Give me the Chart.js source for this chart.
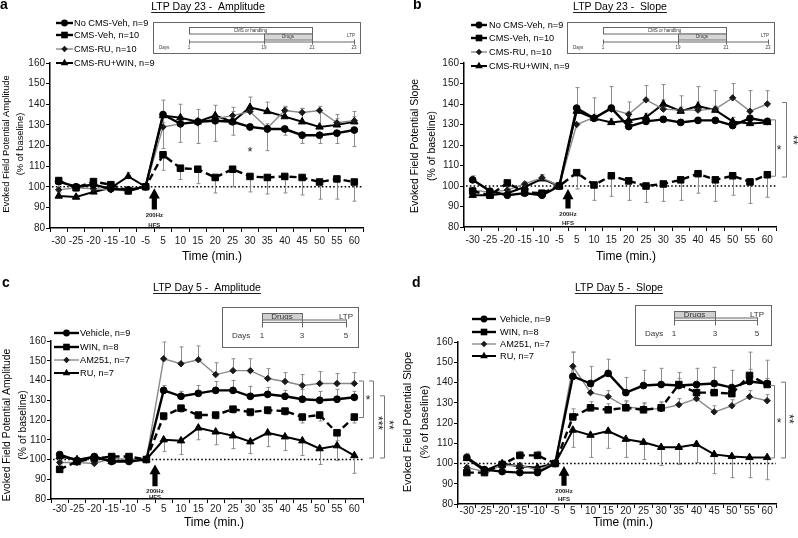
<!DOCTYPE html>
<html>
<head>
<meta charset="utf-8">
<title>LTP panels</title>
<script src="https://cdn.jsdelivr.net/npm/chart.js@4.4.0/dist/chart.umd.min.js"></script>
<style>
    html, body { margin: 0; padding: 0; background: #fff; }
    #wrap { position: relative; width: 798px; height: 538px; overflow: hidden; }
    canvas { position: absolute; }
</style>
</head>
<body>
<div id="wrap">
    <canvas id="chart-a" width="399" height="269" style="left:0;top:0"></canvas>
    <canvas id="chart-b" width="399" height="269" style="left:399px;top:0"></canvas>
    <canvas id="chart-c" width="399" height="269" style="left:0;top:269px"></canvas>
    <canvas id="chart-d" width="399" height="269" style="left:399px;top:269px"></canvas>
</div>
<script>
// --- data ---
const timeLabels = ['-30', '-25', '-20', '-15', '-10', '-5', '5', '10', '15', '20', '25', '30', '35', '40', '45', '50', '55', '60'];

// a: LTP day 23, amplitude
const aNoCmsVeh    = [102.5, 100, 101, 99, 98.5, 100, 135, 130.5, 131.5, 132, 131.5, 129, 128, 128, 125, 125, 126, 127.5];
const aNoCmsVehErr = [1.5, 1.5, 1.5, 1, 1, 0, 16.5, 9, 10.5, 10, 6.5, 1.5, 10.5, 3, 4, 4, 5, 8];
const aCmsVeh      = [103, 99.5, 102.5, 101, 98, 100, 115.5, 109, 108.5, 104.5, 108.5, 105, 104.5, 105, 104.5, 102.3, 103.8, 102.3];
const aCmsVehErr   = [1.5, 1.5, 1.5, 1.5, 1.5, 0, 7.5, 5.5, 7, 7.5, 8.5, 7.5, 8, 8, 8.5, 8.3, 9.8, 9.3];
const aCmsRu       = [98.5, 99.5, 99, 98.5, 98, 100, 129, 130.5, 131, 133, 134.5, 136.5, 128.5, 137, 136, 137, 131, 132];
const aCmsRuErr    = [1, 1, 1, 1, 1, 0, 2, 2, 2, 2, 2, 2, 2, 2, 2, 2, 2, 2];
const aCmsRuWin    = [95.5, 95, 97.5, 99.5, 105, 100, 134.5, 133.5, 131.5, 134.5, 131.5, 138.5, 136.5, 134, 131.5, 129, 130, 131.5];
const aCmsRuWinErr = [1.5, 1, 1.5, 1, 2, 0, 7.5, 6.5, 6, 5, 7, 5, 4.5, 4.5, 6.5, 8, 5, 5];

// b: LTP day 23, slope
const bNoCmsVeh    = [103, 97.5, 95.5, 96.5, 95.5, 100, 138, 133, 138, 129, 131.5, 132.5, 131, 132, 132, 129.5, 133, 131.5];
const bNoCmsVehErr = [2, 1, 1, 1, 1, 0, 10, 1.5, 1.5, 1.5, 1.5, 1.5, 1.5, 1.5, 1.5, 1.5, 1.5, 1.5];
const bCmsVeh      = [97.5, 95.5, 101.5, 97, 96.5, 100, 106.5, 100.5, 105, 102.5, 100, 101, 103, 106, 103, 105, 102, 105.5];
const bCmsVehErr   = [1.5, 1.5, 1.5, 1.5, 1.5, 0, 8, 7.5, 10, 9.5, 8, 8.5, 10, 9.5, 10.5, 9.5, 10.5, 11];
const bCmsRu       = [98, 97, 98, 101, 104, 100, 130, 133.5, 137.5, 135, 142, 137.5, 137, 137, 137.5, 143, 136.5, 140];
const bCmsRuErr    = [1, 1, 1, 1, 1.5, 0, 0, 9.5, 11, 6, 7, 12, 7, 11.5, 9, 7, 10, 6.5];
const bCmsRuWin    = [95.5, 95.5, 96.5, 99.5, 103.5, 100, 136.5, 133, 131, 132, 133.5, 140, 136.5, 139, 137, 131.5, 130.5, 131];
const bCmsRuWinErr = [1, 1, 1, 1, 2, 0, 2, 2, 2, 2, 2, 2, 2, 2, 2, 2, 2, 2];

// c: LTP day 5, amplitude
const cVehicle    = [102.5, 99.5, 101.5, 99, 99, 100, 135, 132, 133.5, 135, 135, 132, 133, 132, 130.5, 130, 130.5, 131.5];
const cVehicleErr = [1.5, 1, 1, 1, 1, 0, 2.5, 2.5, 4, 4.5, 5, 5, 3.5, 3, 5, 4.5, 5, 3];
const cWin        = [95, 99, 100.5, 101.5, 101.5, 100, 122, 126, 122.5, 122.5, 125.5, 124, 125, 124.5, 121.5, 122.5, 113.5, 121.5];
const cWinErr     = [1, 1, 1, 1, 1, 0, 2, 2, 2, 2, 2, 2, 2, 2, 3, 3, 4, 3];
const cAm251      = [98.5, 98.5, 98, 100.5, 100, 100, 151, 148.5, 150.5, 143, 145, 145, 141, 139.5, 137.5, 138.5, 138.5, 138.5];
const cAm251Err   = [1, 1, 1, 1, 1, 0, 8.5, 8.5, 7, 6, 6, 6, 5, 4.5, 5.5, 6, 5, 5.5];
const cRu         = [101.5, 100, 101, 99, 99.5, 100, 110, 109.5, 116, 114, 112, 109, 113.5, 111.5, 109.5, 105.5, 107, 102];
const cRuErr      = [1, 1, 1, 1, 1.5, 0, 6, 7, 6, 6.5, 6.5, 6, 7, 7, 7.5, 8, 7.5, 9];

// d: LTP day 5, slope
const dVehicle    = [103, 97, 96, 95.5, 95.5, 100, 143, 139.5, 144.5, 135, 138.5, 139, 138.5, 139, 139.5, 137.5, 140.5, 139.5];
const dVehicleErr = [2, 1, 1, 1, 1, 0, 12, 8.5, 7, 7.5, 7.5, 8, 6.5, 8, 8, 8.5, 14.5, 11.5];
const dWin        = [95.5, 95.5, 99.5, 104, 104, 100, 123, 127.5, 126.5, 127.5, 126.5, 127.5, 139, 135, 135, 134.5, 143.5, 139];
const dWinErr     = [1, 1, 1, 2, 2, 0, 4, 3, 3, 3, 3, 3, 3, 3, 3, 3, 3, 3];
const dAm251      = [98, 96, 99, 99, 97, 100, 148, 135, 133, 128, 127, 127, 129, 132, 125.5, 128.5, 133, 131];
const dAm251Err   = [1, 1, 1, 1, 1, 0, 7, 3, 3, 3, 3, 3, 3, 3, 3, 3, 3, 3];
const dRu         = [102.5, 96.5, 100, 98.5, 98, 100, 116.5, 114, 116, 112, 110.5, 108, 108, 109.5, 104.5, 103.5, 103, 103];
const dRuErr      = [1, 1, 1, 1, 1, 0, 8.5, 11, 8.5, 9, 8.5, 9, 8.5, 9, 9.5, 10.5, 10, 11];

const FONT = '"Liberation Sans", Arial, Helvetica, sans-serif';

// line / marker look for each of the four series types
const STYLES = {
    circle:   { borderColor: '#000', borderWidth: 2.4, pointStyle: 'circle', pointRadius: 3.4, pointBackgroundColor: '#000', pointBorderColor: '#000' },
    square:   { borderColor: '#000', borderWidth: 2.4, borderDash: [7, 4], pointStyle: 'rect', pointRadius: 4.6, pointBackgroundColor: '#000', pointBorderColor: '#000' },
    diamond:  { borderColor: '#8a8a8a', borderWidth: 1.4, pointStyle: 'rectRot', pointRadius: 3.2, pointBackgroundColor: '#1a1a1a', pointBorderColor: '#1a1a1a' },
    triangle: { borderColor: '#000', borderWidth: 2, pointStyle: 'triangle', pointRadius: 4.3, pointBackgroundColor: '#000', pointBorderColor: '#000' }
};

function series(label, data, errs, errDir, style) {
    return Object.assign({ label, data, errs, errDir, kind: style, tension: 0, fill: false, pointBorderWidth: 1 }, STYLES[style]);
}

// draws a legend marker by hand (Chart.js legend can't do line + marker)
function drawMarker(ctx, kind, x, y) {
    ctx.beginPath();
    if (kind === 'circle') ctx.arc(x, y, 3.4, 0, Math.PI * 2);
    else if (kind === 'square') ctx.rect(x - 3.3, y - 3.3, 6.6, 6.6);
    else if (kind === 'diamond') { ctx.moveTo(x, y - 3.2); ctx.lineTo(x + 3.2, y); ctx.lineTo(x, y + 3.2); ctx.lineTo(x - 3.2, y); ctx.closePath(); }
    else { ctx.moveTo(x, y - 4.3); ctx.lineTo(x + 3.8, y + 2.3); ctx.lineTo(x - 3.8, y + 2.3); ctx.closePath(); }
    ctx.fill();
}

function drawInset(ctx, ins) {
    ctx.save();
    ctx.strokeStyle = '#666';
    ctx.lineWidth = 1;
    ctx.strokeRect(ins.box[0] + 0.5, ins.box[1] + 0.5, ins.box[2], ins.box[3]);
    ctx.font = ins.font + 'px ' + FONT;
    ctx.fillStyle = '#333';
    ctx.textBaseline = 'middle';
    ins.bars.forEach(b => {
        ctx.fillStyle = b.fill;
        ctx.fillRect(b.x0, b.y, b.x1 - b.x0, b.h);
        ctx.strokeRect(b.x0 + 0.5, b.y + 0.5, b.x1 - b.x0, b.h);
        if (b.text) {
            ctx.fillStyle = '#333';
            ctx.textAlign = 'center';
            ctx.fillText(b.text, (b.x0 + b.x1) / 2, b.y + b.h / 2 + 0.5);
        }
    });
    if (ins.line) {
        ctx.beginPath();
        ctx.moveTo(ins.line.x0, ins.line.y);
        ctx.lineTo(ins.line.x1, ins.line.y);
        ctx.stroke();
    }
    ctx.beginPath();
    ins.ticks.xs.forEach(x => { ctx.moveTo(x + 0.5, ins.ticks.y0); ctx.lineTo(x + 0.5, ins.ticks.y1); });
    ctx.stroke();
    ctx.fillStyle = '#333';
    ctx.textAlign = 'center';
    ins.labels.items.forEach(([x, t]) => ctx.fillText(t, x, ins.labels.y));
    ctx.fillText('LTP', ins.ltp[0], ins.ltp[1]);
    ctx.textAlign = 'left';
    ctx.fillText('Days', ins.days[0], ins.days[1]);
    ctx.restore();
}

function panelPlugin(cfg) {
    return {
        id: 'panel' + cfg.letter,
        beforeDatasetsDraw(chart) {
            const { ctx, chartArea: area, scales: { y } } = chart;
            ctx.save();
            // 100 % baseline
            const y100 = y.getPixelForValue(100);
            ctx.strokeStyle = '#000';
            ctx.lineWidth = 1.6;
            ctx.setLineDash([1.6, 2.2]);
            ctx.beginPath();
            ctx.moveTo(area.left + 2, y100);
            ctx.lineTo(area.right, y100);
            ctx.stroke();
            ctx.setLineDash([]);
            // one-sided SEM bars
            ctx.strokeStyle = '#8c8c8c';
            ctx.lineWidth = 1;
            chart.data.datasets.forEach((ds, i) => {
                const meta = chart.getDatasetMeta(i);
                ds.data.forEach((v, j) => {
                    const e = ds.errs[j];
                    if (!e) return;
                    const px = Math.round(meta.data[j].x) + 0.5;
                    const y0 = y.getPixelForValue(v);
                    const y1 = y.getPixelForValue(v + ds.errDir * e);
                    ctx.beginPath();
                    ctx.moveTo(px, y0);
                    ctx.lineTo(px, y1);
                    ctx.moveTo(px - 2, y1);
                    ctx.lineTo(px + 2, y1);
                    ctx.stroke();
                });
            });
            ctx.restore();
        },
        afterDatasetsDraw(chart) {
            const { ctx, scales: { x, y } } = chart;
            ctx.save();
            ctx.fillStyle = '#000';

            // panel letter + underlined title
            ctx.font = 'bold 14px ' + FONT;
            ctx.textAlign = 'left';
            ctx.textBaseline = 'alphabetic';
            ctx.fillText(cfg.letter, cfg.letterPos[0], cfg.letterPos[1]);
            ctx.font = '10.5px ' + FONT;
            ctx.textAlign = 'center';
            ctx.fillText(cfg.title, cfg.titlePos[0], cfg.titlePos[1]);
            const tw = ctx.measureText(cfg.title).width;
            ctx.fillRect(cfg.titlePos[0] - tw / 2, cfg.titlePos[1] + 2, tw, 0.9);

            // axis titles
            ctx.font = '12px ' + FONT;
            ctx.textBaseline = 'middle';
            ctx.fillText('Time (min.)', cfg.xTitle[0], cfg.xTitle[1]);
            ctx.font = cfg.yTitleSize + 'px ' + FONT;
            cfg.yTitle.forEach((t, k) => {
                ctx.save();
                ctx.translate(cfg.yTitleX[k], cfg.yTitleY);
                ctx.rotate(-Math.PI / 2);
                ctx.fillText(t, 0, 0);
                ctx.restore();
            });

            // HFS arrow between -5 and 5
            const ax = (x.getPixelForValue(5) + x.getPixelForValue(6)) / 2;
            const h = cfg.hfs;
            const tip = y.getPixelForValue(h.tip), neck = y.getPixelForValue(h.neck), base = y.getPixelForValue(h.base);
            ctx.beginPath();
            ctx.moveTo(ax, tip);
            ctx.lineTo(ax + 5.5, neck);
            ctx.lineTo(ax + 2.6, neck);
            ctx.lineTo(ax + 2.6, base);
            ctx.lineTo(ax - 2.6, base);
            ctx.lineTo(ax - 2.6, neck);
            ctx.lineTo(ax - 5.5, neck);
            ctx.closePath();
            ctx.fill();
            ctx.font = 'bold 6px ' + FONT;
            ctx.fillStyle = '#222';
            ctx.fillText('200Hz', ax, y.getPixelForValue(h.t1));
            ctx.fillText('HFS', ax, y.getPixelForValue(h.t2));

            // significance brackets
            ctx.strokeStyle = '#777';
            ctx.lineWidth = 1;
            cfg.brackets.forEach(b => {
                const yt = y.getPixelForValue(b.top), yb = y.getPixelForValue(b.bottom);
                ctx.beginPath();
                ctx.moveTo(b.x - 4, yt + 0.5);
                ctx.lineTo(b.x + 0.5, yt + 0.5);
                ctx.lineTo(b.x + 0.5, yb + 0.5);
                ctx.lineTo(b.x - 4, yb + 0.5);
                ctx.stroke();
                ctx.fillStyle = '#222';
                ctx.font = '12px ' + FONT;
                ctx.save();
                ctx.translate(b.tx, y.getPixelForValue(b.ty));
                if (b.rot) ctx.rotate(Math.PI / 2);
                ctx.fillText(b.text, 0, 2);
                ctx.restore();
            });
            (cfg.stars || []).forEach(s => {
                ctx.fillStyle = '#222';
                ctx.font = '13px ' + FONT;
                ctx.fillText('*', x.getPixelForValue(s.index), y.getPixelForValue(s.value) + 3);
            });

            // legend: short line + marker + label
            const L = cfg.legend;
            chart.data.datasets.forEach((ds, i) => {
                const ly = L.ys[i];
                ctx.strokeStyle = ds.borderColor;
                ctx.lineWidth = ds.borderWidth;
                ctx.beginPath();
                ctx.moveTo(L.x0, ly);
                ctx.lineTo(L.x1, ly);
                ctx.stroke();
                ctx.fillStyle = ds.pointBackgroundColor;
                drawMarker(ctx, ds.kind, (L.x0 + L.x1) / 2, ly);
                ctx.fillStyle = '#000';
                ctx.font = '9.2px ' + FONT;
                ctx.textAlign = 'left';
                ctx.fillText(ds.label, L.tx, ly + 0.5);
            });

            drawInset(ctx, cfg.inset);
            ctx.restore();
        }
    };
}

function makeChart(canvasId, datasets, cfg) {
    return new Chart(document.getElementById(canvasId), {
        type: 'line',
        data: { labels: timeLabels, datasets },
        options: {
            responsive: false,
            animation: false,
            devicePixelRatio: 1,
            layout: { padding: cfg.padding },
            plugins: { legend: { display: false }, tooltip: { enabled: false } },
            scales: {
                x: {
                    type: 'category',
                    offset: true,
                    grid: { display: true, offset: true, drawOnChartArea: false, tickLength: 4, color: '#000' },
                    border: { color: '#000', width: 1.5 },
                    ticks: { font: { family: FONT, size: 10 }, color: '#1a1a1a', padding: cfg.tickPad, maxRotation: 0, autoSkip: false },
                    afterFit: s => { s.height = 30; }
                },
                y: {
                    min: 80,
                    max: 160,
                    grid: { drawOnChartArea: false, tickLength: 4, color: '#000' },
                    border: { color: '#000', width: 1.5 },
                    ticks: { stepSize: 10, font: { family: FONT, size: 10 }, color: '#1a1a1a', padding: 1 },
                    afterFit: s => { s.width = 30; }
                }
            }
        },
        plugins: [panelPlugin(cfg)]
    });
}

// --- panel layouts (canvas-local pixels) ---
const day23Inset = (ox) => ({
    box: [ox, 22, 207, 31], font: 4.5,
    bars: [
        { x0: ox + 36, x1: ox + 159, y: 27, h: 6.5, fill: '#fff', text: 'CMS or handling' },
        { x0: ox + 111, x1: ox + 159, y: 33.5, h: 6, fill: '#d6d6d6', text: 'Drugs' }
    ],
    line: { y: 42, x0: ox + 36, x1: ox + 201 },
    ticks: { xs: [ox + 36, ox + 111, ox + 159, ox + 201], y0: 39.5, y1: 44.5 },
    labels: { y: 48, items: [[ox + 36, '1'], [ox + 111, '19'], [ox + 159, '21'], [ox + 201, '23']] },
    days: [ox + 6, 48], ltp: [ox + 198, 35.5]
});

const day5Inset = (bx, by, x1, x3, x5) => ({
    box: [bx, by, 136, 40], font: 8,
    bars: [
        { x0: x1, x1: x3, y: by + 6, h: 6.5, fill: '#d0d0d0', text: 'Drugs' },
        { x0: x1, x1: x5, y: by + 12.5, h: 2.4, fill: '#fff' }
    ],
    line: null,
    ticks: { xs: [x1, x3, x5], y0: by + 12.5, y1: by + 20.5 },
    labels: { y: by + 29, items: [[x1, '1'], [x3, '3'], [x5, '5']] },
    days: [bx + 10, by + 29], ltp: [x5, by + 9.5]
});

const panelA = {
    letter: 'a', letterPos: [0, 9], title: 'LTP Day 23 -  Amplitude', titlePos: [208, 10],
    xTitle: [212, 257], yTitle: ['Evoked Field Potential Amplitude', '(% of baseline)'], yTitleX: [6, 20], yTitleY: 144, yTitleSize: 9.4,
    padding: { left: 20, right: 36, top: 63, bottom: 11 }, tickPad: 3,
    legend: { x0: 56, x1: 73, tx: 74, ys: [23, 35, 49, 63] },
    hfs: { tip: 99.3, neck: 94.3, base: 89, t1: 86.3, t2: 81.5 },
    brackets: [],
    stars: [{ index: 11, value: 118 }],
    inset: day23Inset(153)
};

const panelB = {
    letter: 'b', letterPos: [14, 9], title: 'LTP Day 23 -  Slope', titlePos: [221, 10],
    xTitle: [227, 257], yTitle: ['Evoked Field Potential Slope', '(% of baseline)'], yTitleX: [16, 33], yTitleY: 146, yTitleSize: 10.5,
    padding: { left: 35, right: 22, top: 63, bottom: 12 }, tickPad: 3,
    legend: { x0: 72, x1: 88, tx: 90, ys: [25, 38, 52, 66] },
    hfs: { tip: 98.5, neck: 93.5, base: 89, t1: 86, t2: 82 },
    brackets: [
        { x: 376, top: 132.5, bottom: 105, text: '*', tx: 380, ty: 118, rot: false },
        { x: 387, top: 141, bottom: 104.6, text: '**', tx: 395, ty: 122.5, rot: true }
    ],
    inset: day23Inset(168)
};

const panelC = {
    letter: 'c', letterPos: [2, 18], title: 'LTP Day 5 -  Amplitude', titlePos: [207, 22],
    xTitle: [214, 254], yTitle: ['Evoked Field Potential Amplitude', '(% of baseline)'], yTitleX: [7, 23], yTitleY: 156, yTitleSize: 10.4,
    padding: { left: 21, right: 36, top: 72, bottom: 9 }, tickPad: 0,
    legend: { x0: 54, x1: 79, tx: 80, ys: [64, 78, 91, 104] },
    hfs: { tip: 97.5, neck: 92.5, base: 86.5, t1: 84, t2: 80.8 },
    brackets: [
        { x: 363, top: 140, bottom: 121.5, text: '*', tx: 368, ty: 131, rot: false },
        { x: 373, top: 140, bottom: 101, text: '***', tx: 379, ty: 118.5, rot: true },
        { x: 384, top: 132.5, bottom: 101, text: '**', tx: 390, ty: 117.5, rot: true }
    ],
    inset: day5Inset(222, 38, 262, 302, 346)
};

const panelD = {
    letter: 'd', letterPos: [13, 18], title: 'LTP Day 5 -  Slope', titlePos: [220, 22],
    xTitle: [224, 254], yTitle: ['Evoked Field Potential Slope', '(% of baseline)'], yTitleX: [9, 26], yTitleY: 153, yTitleSize: 11,
    padding: { left: 29, right: 22, top: 73, bottom: 4 }, tickPad: -3,
    legend: { x0: 73, x1: 97, tx: 101, ys: [50, 63, 75, 87] },
    hfs: { tip: 98.8, neck: 94, base: 89, t1: 86.2, t2: 82.4 },
    brackets: [
        { x: 375, top: 138.8, bottom: 103, text: '*', tx: 380, ty: 120.5, rot: false },
        { x: 386, top: 140.4, bottom: 103, text: '**', tx: 391, ty: 122, rot: true }
    ],
    inset: day5Inset(236, 36, 275, 316, 358)
};

makeChart('chart-a', [
    series('No CMS-Veh, n=9', aNoCmsVeh, aNoCmsVehErr, -1, 'circle'),
    series('CMS-Veh, n=10', aCmsVeh, aCmsVehErr, -1, 'square'),
    series('CMS-RU, n=10', aCmsRu, aCmsRuErr, 1, 'diamond'),
    series('CMS-RU+WIN, n=9', aCmsRuWin, aCmsRuWinErr, 1, 'triangle')
], panelA);

makeChart('chart-b', [
    series('No CMS-Veh, n=9', bNoCmsVeh, bNoCmsVehErr, 1, 'circle'),
    series('CMS-Veh, n=10', bCmsVeh, bCmsVehErr, -1, 'square'),
    series('CMS-RU, n=10', bCmsRu, bCmsRuErr, 1, 'diamond'),
    series('CMS-RU+WIN, n=9', bCmsRuWin, bCmsRuWinErr, 1, 'triangle')
], panelB);

makeChart('chart-c', [
    series('Vehicle, n=9', cVehicle, cVehicleErr, 1, 'circle'),
    series('WIN, n=8', cWin, cWinErr, -1, 'square'),
    series('AM251, n=7', cAm251, cAm251Err, 1, 'diamond'),
    series('RU, n=7', cRu, cRuErr, -1, 'triangle')
], panelC);

makeChart('chart-d', [
    series('Vehicle, n=9', dVehicle, dVehicleErr, 1, 'circle'),
    series('WIN, n=8', dWin, dWinErr, 1, 'square'),
    series('AM251, n=7', dAm251, dAm251Err, 1, 'diamond'),
    series('RU, n=7', dRu, dRuErr, -1, 'triangle')
], panelD);
</script>
</body>
</html>
